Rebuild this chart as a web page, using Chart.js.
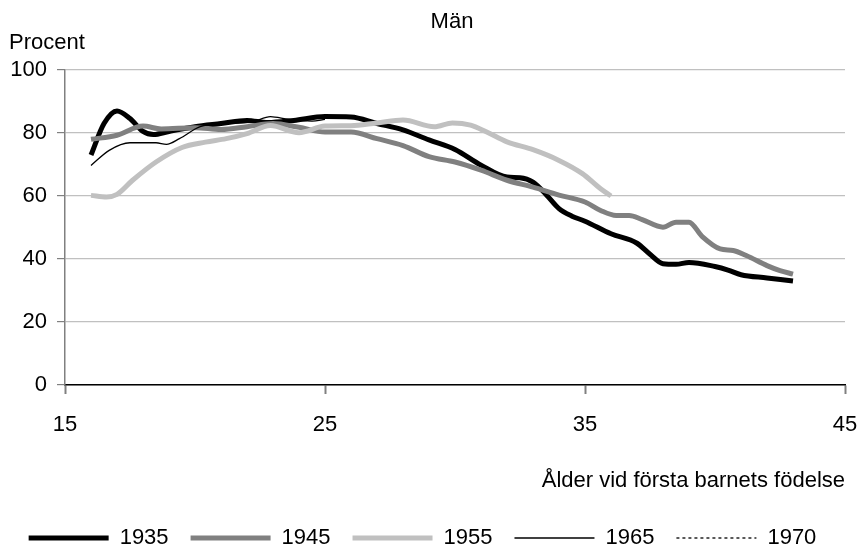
<!DOCTYPE html>
<html>
<head>
<meta charset="utf-8">
<script src="https://cdn.jsdelivr.net/npm/chart.js@4.4.1/dist/chart.umd.min.js"></script>
<style>
  html, body { margin: 0; padding: 0; background: #fff; }
  #wrap { width: 867px; height: 551px; }
</style>
</head>
<body>
<div id="wrap"><canvas id="chart"></canvas></div>
<script>
// Män: andel (procent) efter ålder vid första barnets födelse
const cohorts = ['1935', '1945', '1955', '1965', '1970'];

const age1935 = [16, 16.5, 17, 17.5, 18, 18.4, 19, 20, 21, 22, 22.8, 23.8, 25, 26, 27, 28, 29, 30, 31, 32, 32.5, 33, 33.5, 34, 34.5, 35, 36, 37, 37.5, 38, 38.5, 39, 40, 40.5, 41, 42, 43];
const pct1935 = [73, 83, 87, 84.6, 80.5, 79.5, 80.5, 82, 83, 84, 83.3, 84, 85.2, 85.1, 83, 81, 77.8, 74.8, 69.8, 66, 65.8, 64.4, 60.5, 56, 53.6, 52, 48, 45, 41.5, 38.5, 38.3, 38.9, 37.6, 36.5, 35, 34, 33];

const age1945 = [16, 17, 18, 18.7, 20, 21, 22, 23, 24, 25, 26, 27, 28, 29, 30, 31, 32, 33, 34, 35, 35.6, 36.2, 36.7, 37.2, 38, 38.5, 39, 39.5, 40.2, 40.7, 41.2, 42, 42.5, 43];
const pct1945 = [78, 79.3, 82.2, 81.3, 81.7, 81.1, 82, 83, 81.8, 80.3, 80.3, 78.2, 76, 72.5, 70.8, 68.2, 65, 62.8, 60.3, 58.1, 55.4, 53.8, 53.8, 52.5, 50.1, 51.7, 51.7, 47.2, 43.2, 42.7, 41.1, 37.9, 36.3, 35.2];

const age1955 = [16, 16.6, 17, 17.6, 18.5, 19.5, 20.4, 21.2, 22, 22.9, 24, 25, 26, 27, 28, 29.2, 29.9, 30.6, 31.2, 32, 33, 34, 34.9, 35.6, 36];
const pct1955 = [60.2, 59.7, 60.5, 65, 70.8, 75.4, 77.1, 78.2, 79.8, 82.4, 80.1, 82.2, 82.3, 83.2, 84.1, 82, 83.2, 82.5, 80.4, 77.2, 74.7, 71.3, 67.1, 62.3, 60];

const age1965 = [16, 16.7, 17.5, 18.5, 18.9, 19.4, 20.2, 21.2, 22.2, 22.9, 23.6, 24.5, 25];
const pct1965 = [69.7, 74.5, 76.9, 76.9, 76.4, 78.2, 82, 83, 83.5, 85.2, 84.3, 83.8, 84.3];

const age1970 = [];
const pct1970 = [];

const xTicks = [15, 25, 35, 45];
const yTicks = [0, 20, 40, 60, 80, 100];

const FONT = '"Liberation Sans", Arial, sans-serif';

function pts(ages, vals) {
    return ages.map((a, i) => ({ x: a, y: vals[i] }));
}

const series = [
    { label: cohorts[0], data: pts(age1935, pct1935), color: '#000000', width: 5, dash: [], order: 5 },
    { label: cohorts[1], data: pts(age1945, pct1945), color: '#808080', width: 5, dash: [], order: 4 },
    { label: cohorts[2], data: pts(age1955, pct1955), color: '#c0c0c0', width: 5, dash: [], order: 3 },
    { label: cohorts[3], data: pts(age1965, pct1965), color: '#000000', width: 1.3, dash: [], order: 2 },
    { label: cohorts[4], data: pts(age1970, pct1970), color: '#000000', width: 1.3, dash: [3, 3], order: 1 }
];

// texts that sit outside the scales: title and the y unit
const extraText = {
    id: 'extraText',
    afterDraw(chart) {
        const ctx = chart.ctx;
        ctx.save();
        ctx.fillStyle = '#000';
        ctx.textBaseline = 'middle';
        ctx.font = '22px ' + FONT;
        ctx.textAlign = 'center';
        ctx.fillText('Män', 452, 22);
        ctx.textAlign = 'left';
        ctx.fillText('Procent', 9, 43);
        ctx.restore();
    }
};

new Chart(document.getElementById('chart'), {
    type: 'line',
    data: {
        datasets: series.map(s => ({
            label: s.label,
            data: s.data,
            borderColor: s.color,
            backgroundColor: s.color,
            borderWidth: s.width,
            borderDash: s.dash,
            order: s.order,
            pointRadius: 0,
            tension: 0.4,
            cubicInterpolationMode: 'monotone',
            fill: false
        }))
    },
    options: {
        responsive: true,
        maintainAspectRatio: false,
        animation: false,
        layout: { padding: { top: 70, left: 0, right: 22, bottom: -8 } },
        plugins: {
            legend: {
                position: 'bottom',
                labels: {
                    usePointStyle: true,
                    pointStyleWidth: 80,
                    boxWidth: 80,
                    boxHeight: 10,
                    padding: 22,
                    color: '#000',
                    font: { family: FONT, size: 22 },
                    generateLabels: chart => chart.data.datasets.map((ds, i) => ({
                        text: ds.label,
                        datasetIndex: i,
                        hidden: false,
                        pointStyle: 'line',
                        strokeStyle: ds.borderColor,
                        fillStyle: ds.borderColor,
                        lineWidth: ds.borderWidth,
                        lineDash: ds.borderDash,
                        fontColor: '#000'
                    }))
                }
            },
            tooltip: { enabled: false },
            title: { display: false }
        },
        scales: {
            x: {
                type: 'linear',
                min: 15,
                max: 45,
                afterBuildTicks: scale => { scale.ticks = xTicks.map(v => ({ value: v })); },
                afterFit: scale => {
                    scale.height = 120;
                    scale.paddingLeft = 0;
                    scale.paddingRight = 0;
                },
                ticks: {
                    color: '#000',
                    padding: 18,
                    font: { family: FONT, size: 22 }
                },
                grid: {
                    drawOnChartArea: false,
                    drawTicks: true,
                    tickLength: 9,
                    tickColor: '#808080',
                    tickWidth: 2
                },
                border: { color: '#000', width: 1.5 },
                title: {
                    display: true,
                    text: 'Ålder vid första barnets födelse',
                    align: 'end',
                    color: '#000',
                    font: { family: FONT, size: 22 },
                    padding: { top: 14, bottom: 11 }
                }
            },
            y: {
                min: 0,
                max: 100,
                afterBuildTicks: scale => { scale.ticks = yTicks.map(v => ({ value: v })); },
                afterFit: scale => { scale.width = 65; },
                ticks: {
                    color: '#000',
                    padding: 10,
                    font: { family: FONT, size: 22 }
                },
                grid: {
                    color: '#c0c0c0',
                    lineWidth: 1.2,
                    tickLength: 8,
                    tickColor: '#808080'
                },
                border: { color: '#808080', width: 1.5 }
            }
        }
    },
    plugins: [extraText]
});
</script>
</body>
</html>
